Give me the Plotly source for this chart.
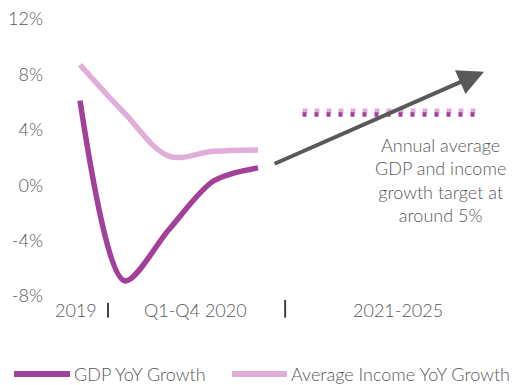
import plotly.graph_objects as go

# ---- data ----
x_hist = [0, 1, 2, 3, 4]                 # 2019, Q1..Q4 2020 (category positions)
gdp_hist = [6.1, -6.9, -3.2, 0.3, 1.25]
inc_hist = [8.7, 5.2, 2.1, 2.45, 2.55]
x_target = [5, 6, 7, 8, 9]               # 2021..2025
gdp_target = [5.1, 5.1, 5.1, 5.1, 5.1]
inc_target = [5.35, 5.35, 5.35, 5.35, 5.35]
y_ticks = [-8, -4, 0, 4, 8, 12]
y_ticklabels = ["-8%", "-4%", "0%", "4%", "8%", "12%"]
period_labels = ["2019", "Q1-Q4 2020", "2021-2025"]
period_pos = [-0.1, 2.6, 7.15]
separators = [0.63, 4.61]
legend_names = ["GDP YoY Growth", "Average Income YoY Growth"]
arrow_from = (4.34, 1.5)
arrow_to = (9.08, 8.2)
note = "Annual average<br>GDP and income<br>growth target at<br>around 5%"

GDP_C = "#A2409A"
INC_C = "#E0AED9"
TXT_C = "#595959"
FONT = "Lato, 'Open Sans', sans-serif"
W = 300

fig = go.Figure()
fig.add_trace(go.Scatter(x=x_hist, y=inc_hist, mode="lines",
                         line=dict(color=INC_C, width=5.5, shape="spline", smoothing=1.0),
                         showlegend=False, hoverinfo="skip"))
fig.add_trace(go.Scatter(x=x_hist, y=gdp_hist, mode="lines",
                         line=dict(color=GDP_C, width=5.5, shape="spline", smoothing=0.85),
                         showlegend=False, hoverinfo="skip"))
fig.add_trace(go.Scatter(x=x_target, y=inc_target, mode="lines",
                         line=dict(color=INC_C, width=5, dash="5px,7px"),
                         showlegend=False, hoverinfo="skip"))
fig.add_trace(go.Scatter(x=x_target, y=gdp_target, mode="lines",
                         line=dict(color=GDP_C, width=4.5, dash="4px,8px"),
                         showlegend=False, hoverinfo="skip"))

# arrow
fig.add_annotation(x=arrow_to[0], y=arrow_to[1], ax=arrow_from[0], ay=arrow_from[1],
                   xref="x", yref="y", axref="x", ayref="y", text="",
                   showarrow=True, arrowhead=2, arrowsize=1.3, arrowwidth=4,
                   arrowcolor=TXT_C)
# note text
fig.add_annotation(x=8.1, y=3.85, xref="x", yref="y", text=note, showarrow=False,
                   xanchor="center", yanchor="top", align="center",
                   font=dict(family=FONT, size=18, color=TXT_C, weight=W))

# period labels under the axis
for lab, pos in zip(period_labels, period_pos):
    fig.add_annotation(x=pos, y=-0.05, xref="x", yref="paper", text=lab,
                       showarrow=False, xanchor="center", yanchor="middle",
                       font=dict(family=FONT, size=18, color=TXT_C, weight=W))
for s, top in zip(separators, [-0.025, -0.014]):
    fig.add_shape(type="line", x0=s, x1=s, y0=top, y1=-0.078, xref="x", yref="paper",
                  line=dict(color="#404040", width=2))

# manual legend
leg_y = -0.282
items = [(legend_names[0], GDP_C, 14, 70), (legend_names[1], INC_C, 232, 287)]
for name, col, px0, px1 in items:
    fig.add_shape(type="line", xref="paper", yref="paper",
                  x0=(px0 - 44) / 466, x1=(px1 - 44) / 466, y0=leg_y, y1=leg_y,
                  line=dict(color=col, width=6))
    fig.add_annotation(x=(px1 + 2 - 44) / 466, y=leg_y, xref="paper", yref="paper",
                       text=name, showarrow=False, xanchor="left", yanchor="middle",
                       font=dict(family=FONT, size=18, color=TXT_C, weight=W))

fig.update_layout(
    width=517, height=385,
    margin=dict(l=44, r=7, t=16, b=89),
    paper_bgcolor="white", plot_bgcolor="white",
    xaxis=dict(range=[-0.809, 9.663], showgrid=False, zeroline=False,
               showticklabels=False, showline=False, ticks=""),
    yaxis=dict(range=[-8, 12], tickvals=y_ticks, ticktext=y_ticklabels,
               showgrid=False, zeroline=False, showline=False, ticks="",
               tickfont=dict(family=FONT, size=18, color=TXT_C, weight=W)),
    showlegend=False,
)
fig.write_html("out.html")
